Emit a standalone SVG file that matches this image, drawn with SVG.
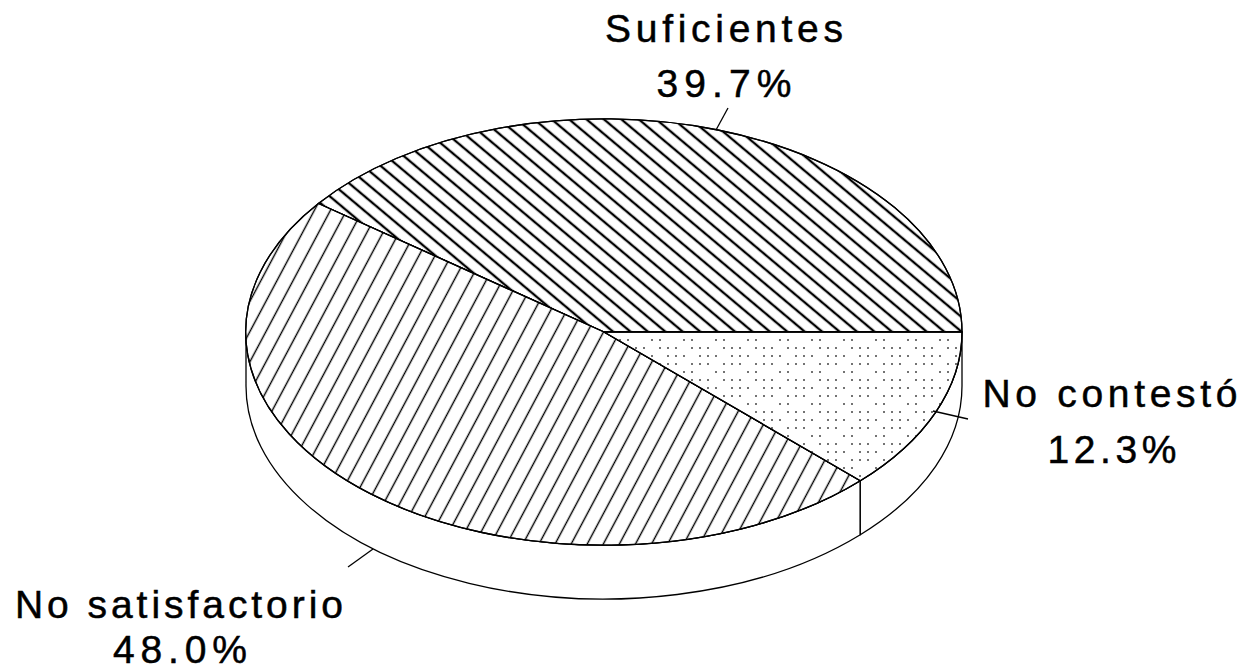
<svg xmlns="http://www.w3.org/2000/svg" width="1252" height="670" viewBox="0 0 1252 670">
<style>
.lbl{font-family:"Liberation Sans",Arial,sans-serif;font-size:39px;fill:#000;stroke:#000;stroke-width:0.5;text-anchor:middle}
.edge{stroke:#000;stroke-width:1.3;stroke-linejoin:round}
.lead{stroke:#000;stroke-width:1.3;fill:none}
</style>
<defs>
<pattern id="hatchSuf" patternUnits="userSpaceOnUse" width="100" height="11.2" patternTransform="rotate(40)">
<line x1="0" y1="5.6" x2="100" y2="5.6" stroke="#000" stroke-width="2.2"/>
</pattern>
<pattern id="hatchNoSat" patternUnits="userSpaceOnUse" width="100" height="14.2" patternTransform="rotate(-62)">
<line x1="0" y1="7.1" x2="100" y2="7.1" stroke="#000" stroke-width="1.2"/>
</pattern>
<pattern id="dots" patternUnits="userSpaceOnUse" width="32" height="32">
<circle cx="4" cy="4" r="1" fill="#444"/>
<circle cx="12" cy="4" r="1" fill="#444"/>
<circle cx="28" cy="4" r="1" fill="#444"/>
<circle cx="4" cy="12" r="1" fill="#444"/>
<circle cx="20" cy="12" r="1" fill="#444"/>
<circle cx="28" cy="12" r="1" fill="#444"/>
<circle cx="12" cy="20" r="1" fill="#444"/>
<circle cx="20" cy="20" r="1" fill="#444"/>
<circle cx="4" cy="28" r="1" fill="#444"/>
<circle cx="20" cy="28" r="1" fill="#444"/>
<circle cx="28" cy="28" r="1" fill="#444"/>
</pattern>
</defs>
<rect width="1252" height="670" fill="#fff"/>
<g id="side">
<path class="edge" fill="#fff" d="M246,332 A358,213 0 0,0 860.3,480.7 L860.3,534.7 A358,213 0 0,1 246,386 Z"/>
<path class="edge" fill="#fff" d="M860.3,480.7 A358,213 0 0,0 962,332 L962,386 A358,213 0 0,1 860.3,534.7 Z"/>
</g>
<g id="slice-suficientes">
<path class="edge" fill="#fff" d="M604,332 L962,332 A358,213 0 0,0 318.4,203.5 Z"/>
<path class="edge" fill="url(#hatchSuf)" d="M604,332 L962,332 A358,213 0 0,0 318.4,203.5 Z"/>
</g>
<g id="slice-no-satisfactorio">
<path class="edge" fill="#fff" d="M604,332 L318.4,203.5 A358,213 0 0,0 860.3,480.7 Z"/>
<path class="edge" fill="url(#hatchNoSat)" d="M604,332 L318.4,203.5 A358,213 0 0,0 860.3,480.7 Z"/>
</g>
<g id="slice-no-contesto">
<path class="edge" fill="#fff" d="M604,332 L860.3,480.7 A358,213 0 0,0 962,332 Z"/>
<path class="edge" fill="url(#dots)" d="M604,332 L860.3,480.7 A358,213 0 0,0 962,332 Z"/>
</g>
<g id="connectors">
<line class="lead" x1="716" y1="130" x2="728" y2="108"/>
<line class="lead" x1="933" y1="411" x2="968" y2="419"/>
<line class="lead" x1="348" y1="567" x2="373" y2="549"/>
</g>
<g id="label-suficientes">
<text class="lbl" x="724" y="42" textLength="238" lengthAdjust="spacing">Suficientes</text>
<text class="lbl" x="724" y="97" textLength="135" lengthAdjust="spacing">39.7%</text>
</g>
<g id="label-no-contesto">
<text class="lbl" x="1110" y="407" textLength="255" lengthAdjust="spacing">No contestó</text>
<text class="lbl" x="1112" y="463" textLength="129" lengthAdjust="spacing">12.3%</text>
</g>
<g id="label-no-satisfactorio">
<text class="lbl" x="179" y="618" textLength="328" lengthAdjust="spacing">No satisfactorio</text>
<text class="lbl" x="180" y="663" textLength="134" lengthAdjust="spacing">48.0%</text>
</g>
</svg>
